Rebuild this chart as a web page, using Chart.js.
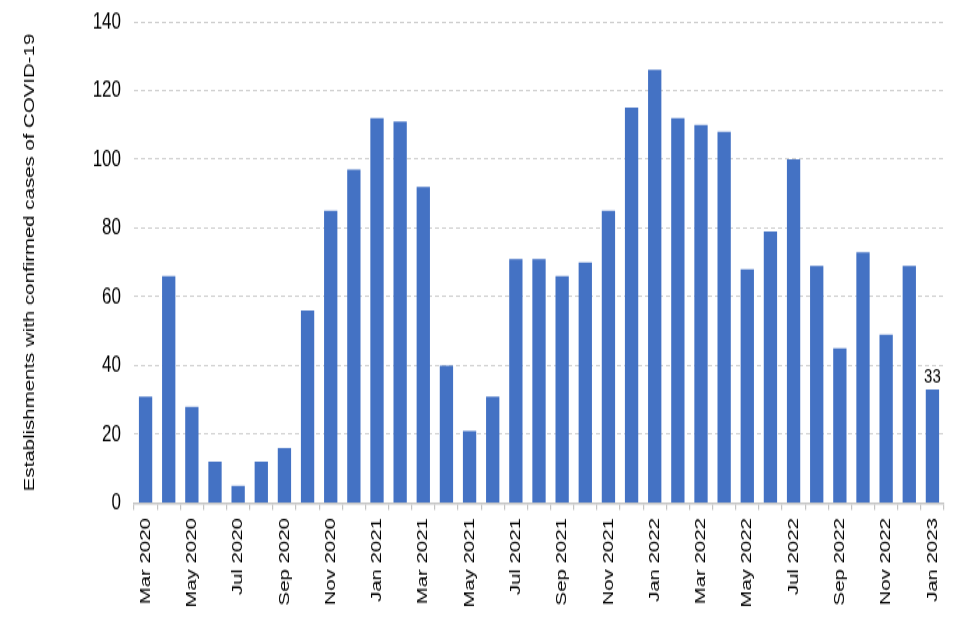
<!DOCTYPE html>
<html>
<head>
<meta charset="utf-8">
<script src="https://cdn.jsdelivr.net/npm/chart.js@4/dist/chart.umd.min.js"></script>
<style>
html,body{margin:0;padding:0;background:#fff;overflow:hidden;}
#wrap{width:960px;height:640px;position:relative;overflow:hidden;}
#c{position:absolute;left:0;top:0;transform-origin:0 0;transform:scaleY(1.3617);}
</style>
</head>
<body>
<div id="wrap"><canvas id="c" width="960" height="470"></canvas></div>
<script>
const categories = ["Mar 2020","Apr 2020","May 2020","Jun 2020","Jul 2020","Aug 2020","Sep 2020","Oct 2020","Nov 2020","Dec 2020",
"Jan 2021","Feb 2021","Mar 2021","Apr 2021","May 2021","Jun 2021","Jul 2021","Aug 2021","Sep 2021","Oct 2021","Nov 2021","Dec 2021",
"Jan 2022","Feb 2022","Mar 2022","Apr 2022","May 2022","Jun 2022","Jul 2022","Aug 2022","Sep 2022","Oct 2022","Nov 2022","Dec 2022",
"Jan 2023"];
const establishments = [31,66,28,12,5,12,16,56,85,97,112,111,92,40,21,31,71,71,66,70,85,115,126,112,110,108,68,79,100,69,45,73,49,69,33];
const yTicks = [0,20,40,60,80,100,120,140];
const yTitle = "Establishments with confirmed cases of COVID-19";

const lastLabelPlugin = {
  id: 'lastLabel',
  afterDatasetsDraw(chart) {
    const meta = chart.getDatasetMeta(0);
    const i = establishments.length - 1;
    const el = meta.data[i];
    const ctx = chart.ctx;
    ctx.save();
    ctx.fillStyle = '#000';
    ctx.font = '15px "Liberation Sans", Arial, sans-serif';
    ctx.textAlign = 'center';
    ctx.textBaseline = 'alphabetic';
    ctx.fillText(String(establishments[i]), el.x, el.y - 5);
    ctx.restore();
  }
};

new Chart(document.getElementById('c'), {
  type: 'bar',
  data: {
    labels: categories,
    datasets: [{
      data: establishments,
      backgroundColor: '#4472C4',
      borderWidth: 0,
      barPercentage: 0.575,
      categoryPercentage: 1.0
    }]
  },
  options: {
    responsive: false,
    animation: false,
    layout: { padding: { left: 0, right: 16, top: 16, bottom: 0 } },
    plugins: { legend: { display: false }, tooltip: { enabled: false } },
    scales: {
      x: {
        offset: true,
        afterFit(axis) { axis.height = 100.6; axis.paddingLeft = 0; axis.paddingRight = 0; },
        grid: { display: true, drawOnChartArea: false, offset: true, color: '#c4c4c4', tickLength: 5, lineWidth: 1.2 },
        border: { display: true, color: '#c4c4c4', width: 1.5 },
        ticks: {
          autoSkip: false,
          minRotation: 90,
          maxRotation: 90,
          padding: 6,
          color: '#000',
          font: { family: '"Liberation Sans", Arial, sans-serif', size: 15 },
          callback: function(v, i) { return i % 2 === 0 ? categories[i] : ''; }
        }
      },
      y: {
        min: 0,
        max: 140,
        afterBuildTicks(axis) { axis.ticks = yTicks.map(v => ({ value: v })); },
        afterFit(axis) { axis.width = 134; axis.paddingTop = 0; axis.paddingBottom = 0; },
        grid: { color: '#cfcfcf', lineWidth: 1, drawTicks: false },
        border: { display: false, dash: [4, 3] },
        ticks: {
          padding: 13,
          color: '#000',
          font: { family: '"Liberation Sans", Arial, sans-serif', size: 17 }
        },
        title: {
          display: true,
          text: yTitle,
          color: '#000',
          padding: { top: 21, bottom: 0 },
          font: { family: '"Liberation Sans", Arial, sans-serif', size: 15 }
        }
      }
    }
  },
  plugins: [lastLabelPlugin]
});
</script>
</body>
</html>
